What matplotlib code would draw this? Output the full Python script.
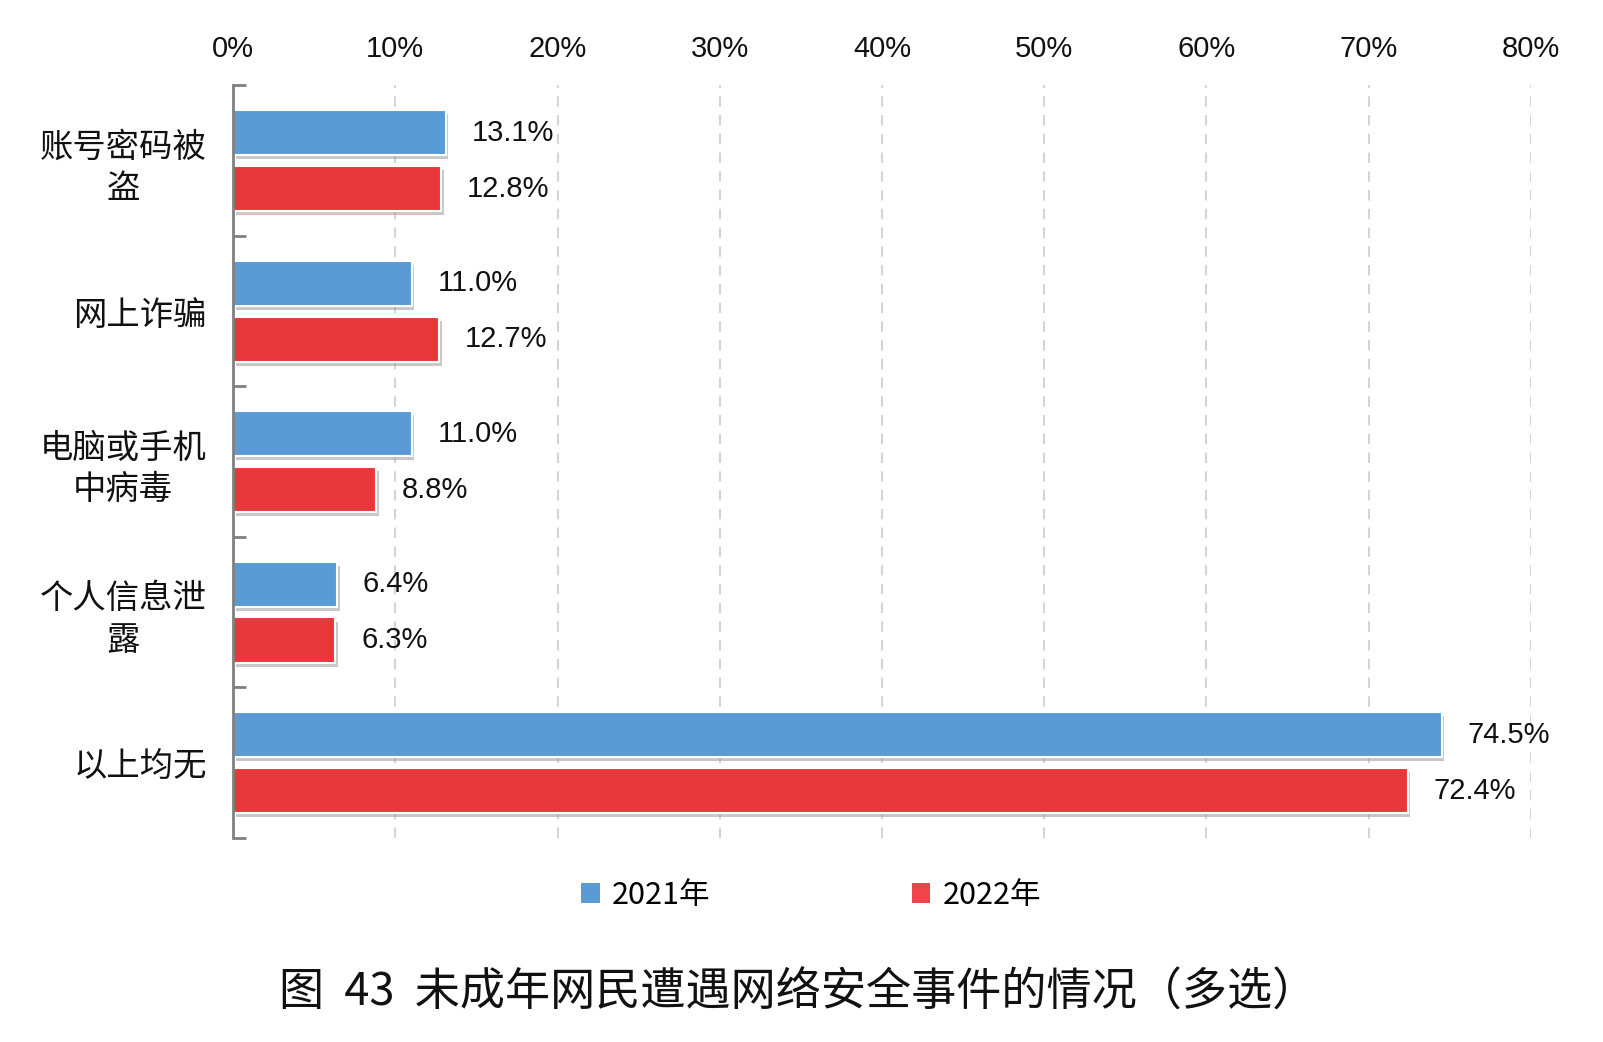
import matplotlib
matplotlib.use("Agg")
import matplotlib.pyplot as plt
import matplotlib.patheffects as pe
from matplotlib.patches import Patch
import numpy as np

plt.rcParams['font.family'] = ['Liberation Sans', 'Noto Sans CJK SC']

# data
categories = ['账号密码被\n盗', '网上诈骗', '电脑或手机\n中病毒', '个人信息泄\n露', '以上均无']
vals_2021 = [13.1, 11.0, 11.0, 6.4, 74.5]
vals_2022 = [12.8, 12.7, 8.8, 6.3, 72.4]
series_names = ['2021年', '2022年']
xticks = [0, 10, 20, 30, 40, 50, 60, 70, 80]

blue = '#5B9BD5'
red = '#E8383C'
cjk = ['Noto Sans CJK SC', 'DejaVu Sans']

fig = plt.figure(figsize=(16.03, 10.42), dpi=100)
ax = fig.add_axes([0.1454, 0.196, 0.8096, 0.722])

y = np.arange(len(categories))
h = 0.30
off = 0.186
shadow = [pe.withSimplePatchShadow(offset=(2, -3), shadow_rgbFace='#9a9a9a', alpha=0.55), pe.Normal()]

b1 = ax.barh(y - off, vals_2021, height=h, color=blue, edgecolor='white', linewidth=1.5, zorder=3)
b2 = ax.barh(y + off, vals_2022, height=h, color=red, edgecolor='white', linewidth=1.5, zorder=3)
for bar in list(b1) + list(b2):
    bar.set_path_effects(shadow)

for yy, v in zip(y - off, vals_2021):
    ax.text(v + 1.6, yy, f'{v:.1f}%', va='center', ha='left', fontsize=21, color='#111111')
for yy, v in zip(y + off, vals_2022):
    ax.text(v + 1.6, yy, f'{v:.1f}%', va='center', ha='left', fontsize=21, color='#111111')

ax.set_xlim(0, 80)
ax.set_ylim(len(categories) - 0.5, -0.5)

ax.xaxis.tick_top()
ax.set_xticks(xticks)
ax.set_xticklabels([f'{t}%' for t in xticks], fontsize=21, color='#111111')
ax.tick_params(axis='x', length=0, pad=16)

ax.set_yticks(y)
ax.set_yticklabels(categories, fontsize=24, family=cjk, color='#111111',
                   multialignment='center', linespacing=1.25)
ax.tick_params(axis='y', which='major', length=0, pad=19)
ax.set_yticks(np.arange(len(categories) + 1) - 0.5, minor=True)
ax.tick_params(axis='y', which='minor', direction='in', length=9, width=2, color='#808080')

for t in xticks[1:]:
    ax.axvline(t, color='#D4D4D4', linestyle=(0, (5, 4)), linewidth=1.5, zorder=1)

for s in ['top', 'right', 'bottom']:
    ax.spines[s].set_visible(False)
ax.spines['left'].set_color('#808080')
ax.spines['left'].set_linewidth(2)
ax.spines['left'].set_zorder(4)

handles = [Patch(facecolor=blue, edgecolor='none'), Patch(facecolor='#F0444A', edgecolor='none')]
fig.legend(handles, series_names, loc='center', bbox_to_anchor=(0.506, 0.141), ncol=2,
           frameon=False, prop={'family': cjk, 'size': 22}, handlelength=0.6, handleheight=0.6,
           handletextpad=0.4, columnspacing=6.6)

fig.text(0.498, 0.047, '图  43  未成年网民遭遇网络安全事件的情况（多选）', ha='center', va='center',
         fontsize=32.5, family=cjk, color='#111111')

fig.savefig('out.png', dpi=100)
